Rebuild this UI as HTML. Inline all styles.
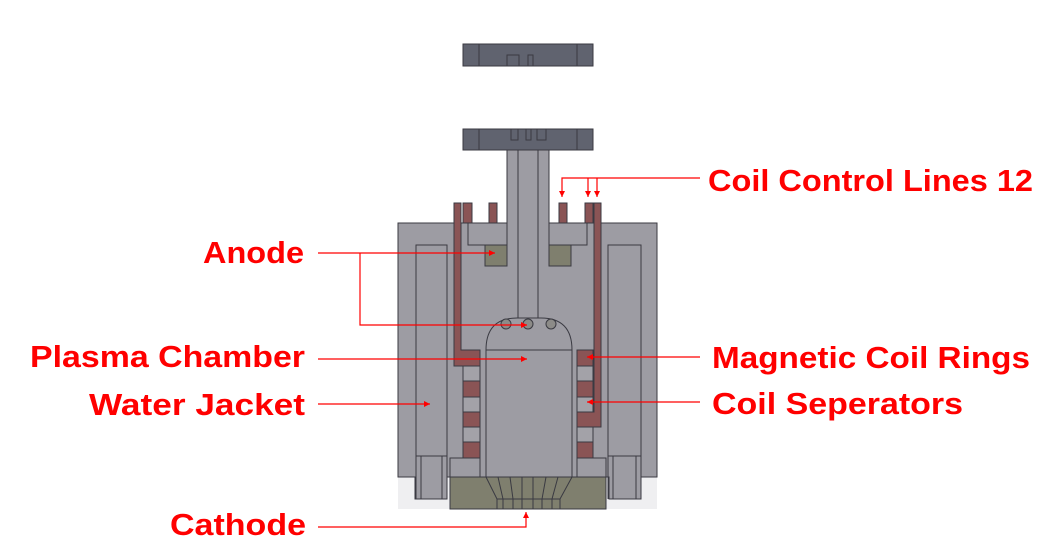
<!DOCTYPE html>
<html><head><meta charset="utf-8"><style>
html,body{margin:0;padding:0;background:#fff;width:1056px;height:552px;overflow:hidden}
text{font-family:"Liberation Sans","Noto Sans CJK KR",sans-serif;font-weight:bold;fill:#ff0000;font-size:31px}
</style></head><body>
<svg width="1056" height="552" viewBox="0 0 1056 552" xmlns="http://www.w3.org/2000/svg">
<defs><marker id="a" markerWidth="8" markerHeight="8" refX="6" refY="3" orient="auto" markerUnits="userSpaceOnUse"><path d="M0,0 L6,3 L0,6 z" fill="#f00"/></marker></defs>
<g stroke="#3a3a42" stroke-width="1">
<!-- top blocks -->
<rect x="463" y="44" width="130" height="22" fill="#60636f"/>
<line x1="479" y1="44" x2="479" y2="66"/><line x1="577" y1="44" x2="577" y2="66"/>
<rect x="507" y="55" width="12" height="11" fill="none"/><rect x="528" y="55" width="5" height="11" fill="none"/>
<rect x="463" y="129" width="130" height="21" fill="#60636f"/>
<line x1="479" y1="129" x2="479" y2="150"/><line x1="577" y1="129" x2="577" y2="150"/>
<rect x="511" y="129" width="7" height="11" fill="none"/><rect x="526" y="129" width="5" height="11" fill="none"/><rect x="537" y="129" width="9" height="11" fill="none"/>
<!-- background lighter -->
<rect x="398" y="223" width="259" height="286" fill="#efeff1" stroke="none"/>
<!-- main body -->
<path d="M398,223 H507 V150 H549 V223 H657 V477 H641 V499 H609 V477 H606 V509 H450 V477 H447 V499 H415 V477 H398 Z" fill="#9d9ca3"/>
<line x1="518" y1="150" x2="518" y2="318"/><line x1="538" y1="150" x2="538" y2="318"/>
<path d="M468,223 V245 H507 V223" fill="none"/><path d="M587,223 V245 H549 V223" fill="none"/>
<rect x="485" y="245" width="22" height="21" fill="#7f7f6e"/>
<rect x="549" y="245" width="22" height="21" fill="#7f7f6e"/>
<rect x="416" y="245" width="31" height="211" fill="#9d9ca3"/>
<rect x="608" y="245" width="33" height="211" fill="#9d9ca3"/>
<path d="M421,456 V499 M442,456 V499 M416,456 V499 M447,456 V499" fill="none"/>
<path d="M613,456 V499 M636,456 V499 M608,456 V499 M641,456 V499" fill="none"/>
<!-- tabs and coil lines -->
<rect x="463" y="203" width="9" height="20" fill="#8a5455"/>
<rect x="489" y="203" width="8" height="20" fill="#8a5455"/>
<rect x="559" y="203" width="8" height="20" fill="#8a5455"/>
<rect x="585" y="203" width="8" height="20" fill="#8a5455"/>
<path d="M454,203 H461 V350 H480 V366 H454 Z" fill="#8a5455"/>
<path d="M594,203 H601 V427 H577 V412 H594 Z" fill="#8a5455"/>
<!-- coil rings -->
<rect x="463" y="366" width="17" height="15" fill="#a3a2a8"/>
<rect x="463" y="381" width="17" height="16" fill="#8a5455"/>
<rect x="463" y="397" width="17" height="15" fill="#a3a2a8"/>
<rect x="463" y="412" width="17" height="15" fill="#8a5455"/>
<rect x="463" y="427" width="17" height="15" fill="#a3a2a8"/>
<rect x="463" y="442" width="17" height="16" fill="#8a5455"/>
<rect x="577" y="350" width="16" height="16" fill="#8a5455"/>
<rect x="577" y="366" width="16" height="15" fill="#a3a2a8"/>
<rect x="577" y="381" width="16" height="16" fill="#8a5455"/>
<rect x="577" y="397" width="16" height="15" fill="#a3a2a8"/>
<rect x="577" y="427" width="16" height="15" fill="#a3a2a8"/>
<rect x="577" y="442" width="16" height="16" fill="#8a5455"/>
<rect x="450" y="458" width="30" height="19" fill="#9d9ca3"/>
<rect x="577" y="458" width="29" height="19" fill="#9d9ca3"/>
<!-- chamber -->
<path d="M486,477 V350 Q486,318 517,318 H541 Q572,318 572,350 V477" fill="#9d9ca3"/>
<line x1="486" y1="350" x2="572" y2="350"/>
<circle cx="506" cy="324" r="5" fill="#8c8b88"/><circle cx="528" cy="324" r="5" fill="#8c8b88"/><circle cx="551" cy="324" r="5" fill="#8c8b88"/>
<!-- cathode -->
<rect x="450" y="477" width="156" height="32" fill="#7f7f6e"/>
<path d="M486,477 L497,499 V509 M498,477 L503,499 V509 M510,477 L513,499 V509 M522,477 V509 M533,477 V509 M546,477 L542,499 V509 M558,477 L552,499 V509 M572,477 L560,499 V509 M497,499 H560" fill="none"/>
</g>
<!-- leaders -->
<g stroke="#f00" stroke-width="1.2" fill="none">
<path d="M700,178 H562 V197" marker-end="url(#a)"/>
<path d="M588,178 V197" marker-end="url(#a)"/>
<path d="M597,178 V197" marker-end="url(#a)"/>
<path d="M318,253 H495" marker-end="url(#a)"/>
<path d="M360,253 V325 H527" marker-end="url(#a)"/>
<path d="M318,359 H527" marker-end="url(#a)"/>
<path d="M318,404 H430" marker-end="url(#a)"/>
<path d="M318,527 H526 V512" marker-end="url(#a)"/>
<path d="M700,357 H587" marker-end="url(#a)"/>
<path d="M700,402 H587" marker-end="url(#a)"/>
</g>
<text x="708" y="191" textLength="325" lengthAdjust="spacingAndGlyphs">Coil Control Lines 12</text>
<text x="203" y="263" textLength="101" lengthAdjust="spacingAndGlyphs">Anode</text>
<text x="30" y="367" textLength="275" lengthAdjust="spacingAndGlyphs">Plasma Chamber</text>
<text x="89" y="415" textLength="216" lengthAdjust="spacingAndGlyphs">Water Jacket</text>
<text x="170" y="535" textLength="136" lengthAdjust="spacingAndGlyphs">Cathode</text>
<text x="712" y="368" textLength="318" lengthAdjust="spacingAndGlyphs">Magnetic Coil Rings</text>
<text x="712" y="414" textLength="251" lengthAdjust="spacingAndGlyphs">Coil Seperators</text>
</svg>
</body></html>
